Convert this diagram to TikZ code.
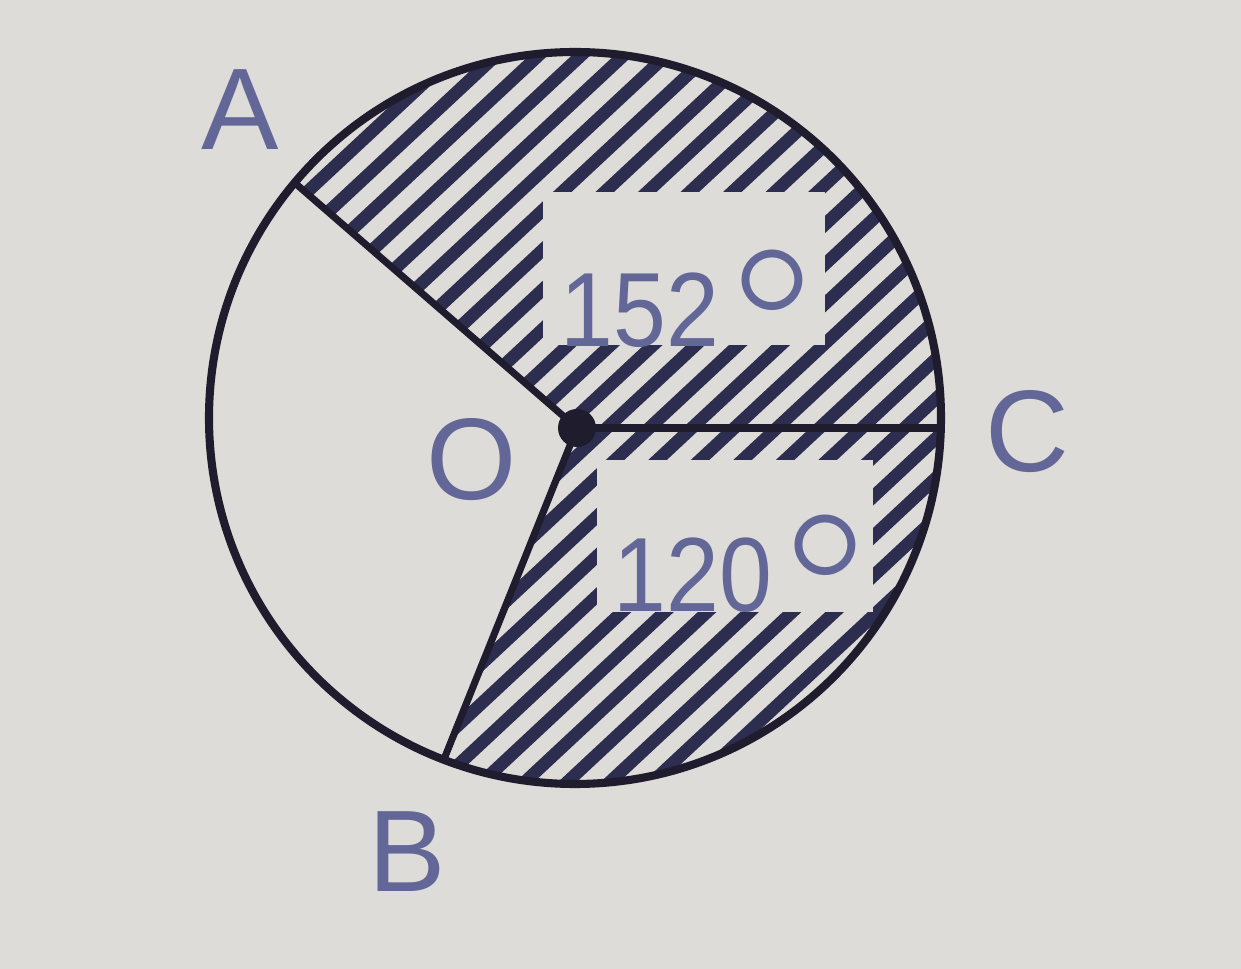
\documentclass[tikz,border=0pt]{standalone}
\usepackage{fontspec}
\setmainfont{Liberation Sans}
\newfontfamily\lmdeg{Latin Modern Roman}
\definecolor{bg}{RGB}{222,220,216}
\definecolor{ink}{RGB}{30,28,45}
\definecolor{txt}{RGB}{98,103,152}
\definecolor{hatchc}{RGB}{45,45,80}
\newcommand{\bigdeg}{\hspace{0.13cm}\raisebox{-0.61cm}{\lmdeg\fontsize{66}{66}\selectfont °}}
\begin{document}
\begin{tikzpicture}[x=0.01cm,y=0.01cm,
  rim/.style={draw=ink,line width=2.3pt},
  radline/.style={draw=ink,line width=2pt},
  stripe/.style={draw=hatchc,line width=3.6pt},
  lbl/.style={text=txt,inner sep=0pt,font=\fontsize{33}{33}\selectfont},
  num/.style={text=txt,inner sep=0pt,anchor=base west,font=\fontsize{30}{30}\selectfont},
  gap/.style={fill=bg,draw=none}]
\fill[bg] (0,0) rectangle (1241,969);
\useasboundingbox (0,0) rectangle (1241,969);
\coordinate (cen) at (575,551);
\coordinate (O) at (577,541);
\coordinate (A) at (294.6,786.3);
\coordinate (B) at (443.8,209.3);
\coordinate (C) at (940.9,541);
\begin{scope}
\clip (A) arc[start angle=140,end angle=-111,radius=366] -- (O) -- cycle;
\begin{scope}[shift={(575,551)},rotate=43]
\foreach \k in {-15,...,15} \draw[stripe] (-420,\k*29) -- (420,\k*29);
\end{scope}
\end{scope}
\fill[gap] (543,624) rectangle (825,777);
\fill[gap] (597,357) rectangle (873,509);
\draw[rim] (cen) circle[radius=366];
\draw[radline] (O) -- (A);
\draw[radline] (O) -- (B);
\draw[radline] (O) -- (C);
\fill[ink] (O) circle[radius=19];
\node[lbl] (lA) at (240,859) {A};
\node[lbl] (lB) at (407,117) {B};
\node[lbl] (lC) at (1027,537) {C};
\node[lbl] (lO) at (472,509) {O};
\node[num] (n152) at (560,622) {\scalebox{0.9}[1]{152}\bigdeg};
\node[num] (n120) at (613,357) {\scalebox{0.9}[1]{120}\bigdeg};
\end{tikzpicture}
\end{document}
